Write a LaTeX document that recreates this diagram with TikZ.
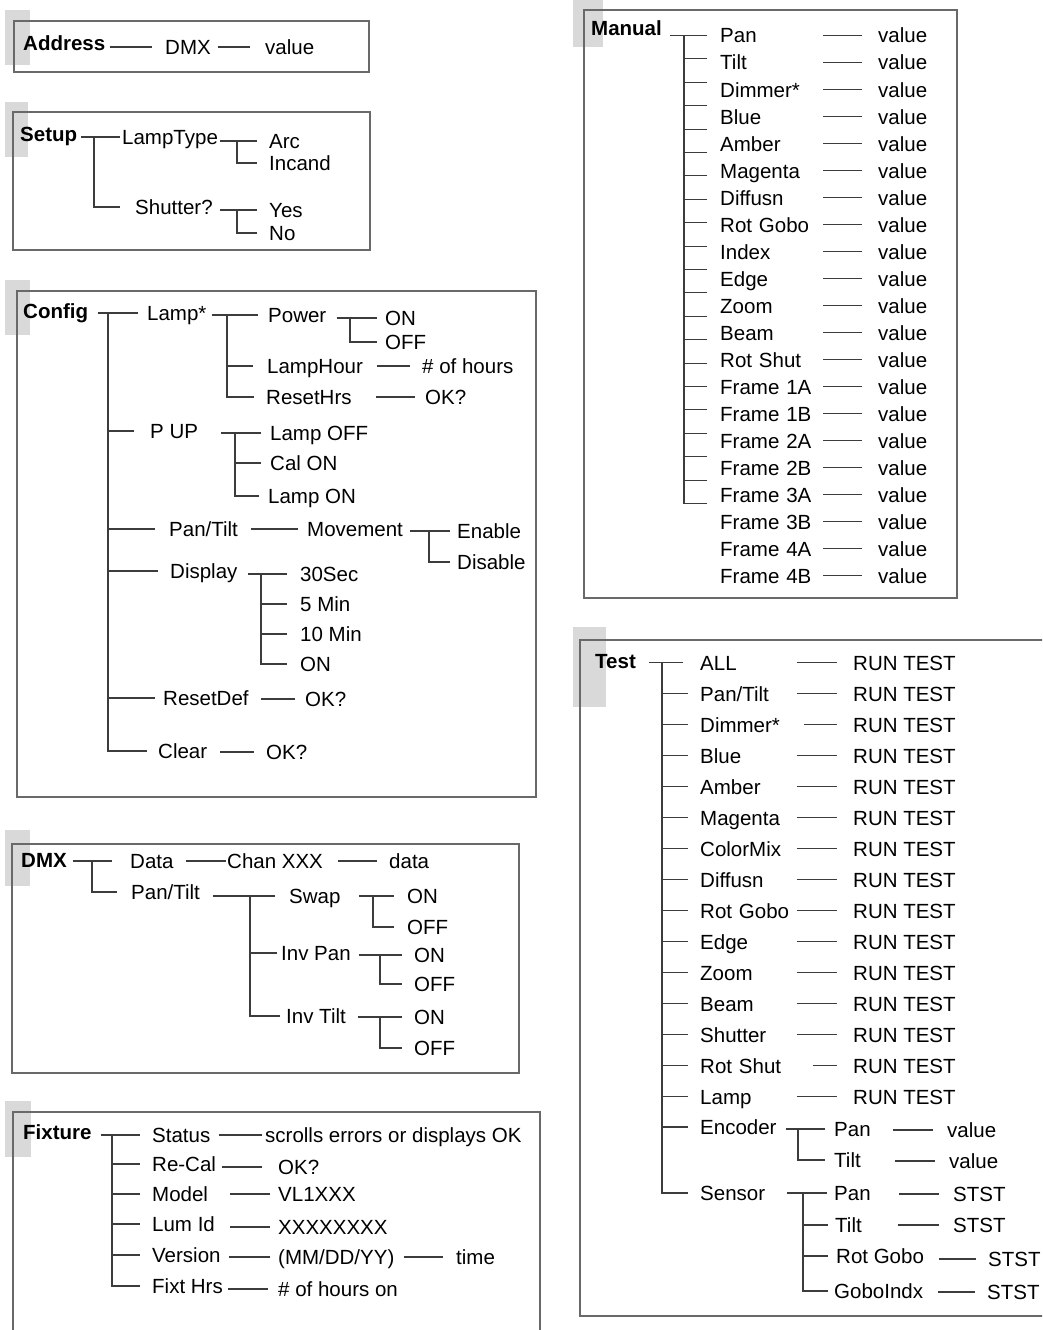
\documentclass[tikz,border=0pt]{standalone}
\usepackage{fontspec}
\setmainfont{Liberation Sans}
\usepackage{tikz}
\usetikzlibrary{positioning}
\definecolor{tabgray}{RGB}{217,217,217}
\definecolor{wiregray}{RGB}{60,60,60}
\definecolor{framegray}{RGB}{105,105,105}

\begin{document}
\begin{tikzpicture}[x=1pt, y=-1pt,
  every node/.style={font=\fontsize{20.5}{24}\selectfont},
  item/.style={anchor=west, inner sep=0pt, text height=15pt, text depth=0pt},
  row/.style={item, text width=#1, align=left},
  head/.style={item, font=\fontsize{20.5}{24}\selectfont\bfseries},
  menubox/.style={draw=framegray, line width=1.3pt},
  tab/.style={fill=tabgray},
  wire/.style={draw=wiregray, line width=1.1pt, shorten <=4pt, shorten >=10pt},
  elbow/.style={wire, shorten <=0pt}]
  \useasboundingbox (0,0) rectangle (1042,1330);
  \clip (0,0) rectangle (1042,1330);

  % Address
  \fill[tab] (5,10) rectangle (30,65);
  \draw[menubox] (14,21) rectangle (369,72);
  \node[head] (addr) at (23,43) {Address};
  \node[item] (adrdmx) at (165,47) {DMX};
  \node[item] (adrval) at (265,47) {value};
  \draw[wire, shorten <=5pt, shorten >=13pt] (addr.east |- adrdmx) -- (adrdmx);
  \draw[wire, shorten <=7pt, shorten >=15pt] (adrdmx) -- (adrval);

  % Setup
  \fill[tab] (5,102) rectangle (28,157);
  \draw[menubox] (13,112) rectangle (370,250);
  \node[head] (setup) at (20,134) {Setup};
  \node[item] (ltype) at (122,137) {LampType};
  \node[item] (arc) at (269,141) {Arc};
  \node[item] (incand) at (269,163) {Incand};
  \node[item] (shut) at (135,207) {Shutter?};
  \node[item] (yes) at (269,210) {Yes};
  \node[item] (no) at (269,233) {No};
  \coordinate (setsp) at (94,137);
  \coordinate (ltsp) at (237,141);
  \coordinate (shsp) at (237,210);
  \draw[wire, shorten >=2pt] (setup.east |- ltype) -- (ltype);
  \draw[elbow, shorten >=15pt] (setsp) |- (shut);
  \draw[wire, shorten <=2pt, shorten >=12pt] (ltype.east |- arc) -- (arc);
  \draw[elbow, shorten >=12pt] (ltsp) |- (incand);
  \draw[wire, shorten <=7pt, shorten >=12pt] (shut.east |- yes) -- (yes);
  \draw[elbow, shorten >=12pt] (shsp) |- (no);

  % Config
  \fill[tab] (5,280) rectangle (30,335);
  \draw[menubox] (17,291) rectangle (536,797);
  \node[head] (cfg) at (23,311) {Config};
  \node[item] (lamp) at (147,313) {Lamp*};
  \node[item] (power) at (268,315) {Power};
  \node[item] (pon) at (385,318) {ON};
  \node[item] (poff) at (385,342) {OFF};
  \node[item] (lhour) at (267,366) {LampHour};
  \node[item] (hours) at (422,366) {\# of hours};
  \node[item] (rhrs) at (266,397) {ResetHrs};
  \node[item] (rhok) at (425,397) {OK?};
  \node[item] (pup) at (150,431) {P UP};
  \node[item] (lmpoff) at (270,433) {Lamp OFF};
  \node[item] (calon) at (270,463) {Cal ON};
  \node[item] (lmpon) at (268,496) {Lamp ON};
  \node[item] (cpt) at (169,529) {Pan/Tilt};
  \node[item] (move) at (307,529) {Movement};
  \node[item] (enable) at (457,531) {Enable};
  \node[item] (disable) at (457,562) {Disable};
  \node[item] (disp) at (170,571) {Display};
  \node[item] (s30) at (300,574) {30Sec};
  \node[item] (m5) at (300,604) {5 Min};
  \node[item] (m10) at (300,634) {10 Min};
  \node[item] (don) at (300,664) {ON};
  \node[item] (rdef) at (163,698) {ResetDef};
  \node[item] (rdok) at (305,699) {OK?};
  \node[item] (clr) at (158,751) {Clear};
  \node[item] (clok) at (266,752) {OK?};
  \coordinate (cfgsp) at (108,313);
  \coordinate (lampsp) at (227,315);
  \coordinate (powsp) at (350,318);
  \coordinate (pupsp) at (235,433);
  \coordinate (movsp) at (429,531);
  \coordinate (dispsp) at (261,574);
  \draw[wire, shorten <=10pt, shorten >=9pt] (cfg.east |- lamp) -- (lamp);
  \draw[elbow, shorten >=16pt] (cfgsp) |- (pup);
  \draw[elbow, shorten >=14pt] (cfgsp) |- (cpt);
  \draw[elbow, shorten >=12pt] (cfgsp) |- (disp);
  \draw[elbow, shorten >=8pt] (cfgsp) |- (rdef);
  \draw[elbow, shorten >=11pt] (cfgsp) |- (clr);
  \draw[wire, shorten <=5pt, shorten >=10pt] (lamp.east |- power) -- (power);
  \draw[elbow, shorten >=14pt] (lampsp) |- (lhour);
  \draw[elbow, shorten >=12pt] (lampsp) |- (rhrs);
  \draw[wire, shorten <=10pt, shorten >=8pt] (power.east |- pon) -- (pon);
  \draw[elbow, shorten >=8pt] (powsp) |- (poff);
  \draw[wire, shorten <=14pt, shorten >=12pt] (lhour) -- (hours);
  \draw[wire, shorten <=24pt, shorten >=10pt] (rhrs) -- (rhok);
  \draw[wire, shorten <=23pt, shorten >=9pt] (pup.east |- lmpoff) -- (lmpoff);
  \draw[elbow, shorten >=9pt] (pupsp) |- (calon);
  \draw[elbow, shorten >=9pt] (pupsp) |- (lmpon);
  \draw[wire, shorten <=13pt, shorten >=9pt] (cpt) -- (move);
  \draw[wire, shorten <=7pt, shorten >=7pt] (move.east |- enable) -- (enable);
  \draw[elbow, shorten >=7pt] (movsp) |- (disable);
  \draw[wire, shorten <=10pt, shorten >=13pt] (disp.east |- s30) -- (s30);
  \draw[elbow, shorten >=13pt] (dispsp) |- (m5);
  \draw[elbow, shorten >=13pt] (dispsp) |- (m10);
  \draw[elbow, shorten >=13pt] (dispsp) |- (don);
  \draw[wire, shorten <=12pt, shorten >=10pt] (rdef.east |- rdok) -- (rdok);
  \draw[wire, shorten <=13pt, shorten >=12pt] (clr.east |- clok) -- (clok);

  % DMX
  \fill[tab] (5,830) rectangle (30,886);
  \draw[menubox] (12,844) rectangle (519,1073);
  \node[head] (dmx) at (21,860) {DMX};
  \node[item] (data) at (130,861) {Data};
  \node[item] (chan) at (227,861) {Chan XXX};
  \node[item] (dval) at (389,861) {data};
  \node[item] (dpt) at (131,892) {Pan/Tilt};
  \node[item] (swap) at (289,896) {Swap};
  \node[item] (son) at (407,896) {ON};
  \node[item] (soff) at (407,927) {OFF};
  \node[item] (ipan) at (281,953) {Inv Pan};
  \node[item] (ipon) at (414,955) {ON};
  \node[item] (ipoff) at (414,984) {OFF};
  \node[item] (itilt) at (286,1016) {Inv Tilt};
  \node[item] (iton) at (414,1017) {ON};
  \node[item] (itoff) at (414,1048) {OFF};
  \coordinate (dmxsp) at (92,861);
  \coordinate (dptsp) at (250,896);
  \coordinate (swsp) at (373,896);
  \coordinate (ipsp) at (380,955);
  \coordinate (itsp) at (380,1017);
  \draw[wire, shorten <=6pt, shorten >=18pt] (dmx.east |- data) -- (data);
  \draw[elbow, shorten >=14pt] (dmxsp) |- (dpt);
  \draw[wire, shorten <=12pt, shorten >=1pt] (data) -- (chan);
  \draw[wire, shorten <=15pt, shorten >=12pt] (chan) -- (dval);
  \draw[wire, shorten <=13pt, shorten >=14pt] (dpt.east |- swap) -- (swap);
  \draw[elbow, shorten >=4pt] (dptsp) |- (ipan);
  \draw[elbow, shorten >=6pt] (dptsp) |- (itilt);
  \draw[wire, shorten <=18pt, shorten >=13pt] (swap) -- (son);
  \draw[elbow, shorten >=13pt] (swsp) |- (soff);
  \draw[wire, shorten <=8pt, shorten >=12pt] (ipan.east |- ipon) -- (ipon);
  \draw[elbow, shorten >=12pt] (ipsp) |- (ipoff);
  \draw[wire, shorten <=12pt, shorten >=12pt] (itilt.east |- iton) -- (iton);
  \draw[elbow, shorten >=12pt] (itsp) |- (itoff);

  % Fixture
  \fill[tab] (5,1101) rectangle (31,1157);
  \draw[menubox] (13,1112) rectangle (540,1345);
  \node[head] (fix) at (23,1132) {Fixture};
  \node[item] (stat) at (152,1135) {Status};
  \node[item] (scroll) at (265,1135) {scrolls errors or displays OK};
  \node[item] (recal) at (152,1164) {Re-Cal};
  \node[item] (rcok) at (278,1167) {OK?};
  \node[item] (model) at (152,1194) {Model};
  \node[item] (vl) at (278,1194) {VL1XXX};
  \node[item] (lum) at (152,1224) {Lum Id};
  \node[item] (lumx) at (278,1227) {XXXXXXXX};
  \node[item] (ver) at (152,1255) {Version};
  \node[item] (mdy) at (278,1257) {(MM/DD/YY)};
  \node[item] (time) at (456,1257) {time};
  \node[item] (fhrs) at (152,1286) {Fixt Hrs};
  \node[item] (fhon) at (278,1289) {\# of hours on};
  \coordinate (fixsp) at (112,1135);
  \draw[wire, shorten <=9pt, shorten >=12pt] (fix.east |- stat) -- (stat);
  \draw[elbow, shorten >=12pt] (fixsp) |- (recal);
  \draw[elbow, shorten >=12pt] (fixsp) |- (model);
  \draw[elbow, shorten >=12pt] (fixsp) |- (lum);
  \draw[elbow, shorten >=12pt] (fixsp) |- (ver);
  \draw[elbow, shorten >=12pt] (fixsp) |- (fhrs);
  \draw[wire, shorten <=8pt, shorten >=3pt] (stat) -- (scroll);
  \draw[wire, shorten <=6pt, shorten >=16pt] (recal.east |- rcok) -- (rcok);
  \draw[wire, shorten <=22pt, shorten >=8pt] (model) -- (vl);
  \draw[wire, shorten <=15pt, shorten >=8pt] (lum.east |- lumx) -- (lumx);
  \draw[wire, shorten <=8pt, shorten >=8pt] (ver.east |- mdy) -- (mdy);
  \draw[wire, shorten <=9pt, shorten >=13pt] (mdy) -- (time);
  \draw[wire, shorten <=5pt, shorten >=10pt] (fhrs.east |- fhon) -- (fhon);

  % Manual
  \fill[tab] (573,0) rectangle (603,47);
  \draw[menubox] (584,10) rectangle (957,598);
  \node[head] (man) at (591,28) {Manual};
  \node[row=100pt] (m1) at (720,35.5) {Pan};        \node[item] (mv1) at (878,35.5) {value};
  \node[row=100pt] (m2) at (720,62.5) {Tilt};       \node[item] (mv2) at (878,62.5) {value};
  \node[row=100pt] (m3) at (720,89.5) {Dimmer*};    \node[item] (mv3) at (878,89.5) {value};
  \node[row=100pt] (m4) at (720,116.5) {Blue};      \node[item] (mv4) at (878,116.5) {value};
  \node[row=100pt] (m5) at (720,143.5) {Amber};     \node[item] (mv5) at (878,143.5) {value};
  \node[row=100pt] (m6) at (720,170.5) {Magenta};   \node[item] (mv6) at (878,170.5) {value};
  \node[row=100pt] (m7) at (720,197.5) {Diffusn};   \node[item] (mv7) at (878,197.5) {value};
  \node[row=100pt] (m8) at (720,224.5) {Rot Gobo};  \node[item] (mv8) at (878,224.5) {value};
  \node[row=100pt] (m9) at (720,251.5) {Index};     \node[item] (mv9) at (878,251.5) {value};
  \node[row=100pt] (m10) at (720,278.5) {Edge};     \node[item] (mv10) at (878,278.5) {value};
  \node[row=100pt] (m11) at (720,305.5) {Zoom};     \node[item] (mv11) at (878,305.5) {value};
  \node[row=100pt] (m12) at (720,332.5) {Beam};     \node[item] (mv12) at (878,332.5) {value};
  \node[row=100pt] (m13) at (720,359.5) {Rot Shut}; \node[item] (mv13) at (878,359.5) {value};
  \node[row=100pt] (m14) at (720,386.5) {Frame 1A}; \node[item] (mv14) at (878,386.5) {value};
  \node[row=100pt] (m15) at (720,413.5) {Frame 1B}; \node[item] (mv15) at (878,413.5) {value};
  \node[row=100pt] (m16) at (720,440.5) {Frame 2A}; \node[item] (mv16) at (878,440.5) {value};
  \node[row=100pt] (m17) at (720,467.5) {Frame 2B}; \node[item] (mv17) at (878,467.5) {value};
  \node[row=100pt] (m18) at (720,494.5) {Frame 3A}; \node[item] (mv18) at (878,494.5) {value};
  \node[row=100pt] (m19) at (720,521.5) {Frame 3B}; \node[item] (mv19) at (878,521.5) {value};
  \node[row=100pt] (m20) at (720,548.5) {Frame 4A}; \node[item] (mv20) at (878,548.5) {value};
  \node[row=100pt] (m21) at (720,575.5) {Frame 4B}; \node[item] (mv21) at (878,575.5) {value};
  \coordinate (mansp) at (684,35.5);
  \draw[wire, shorten <=8pt, shorten >=13pt] (man.east |- m1) -- (m1);
  \draw[elbow, shorten >=0pt] (mansp) -- ++(0,468);
  \foreach \k in {1,...,20}
    \draw[elbow, shorten >=0pt] (mansp) ++(0,23.4*\k) -- ++(23,0);
  \foreach \k in {1,...,21}
    \draw[wire, shorten <=3pt, shorten >=16pt] (m\k) -- (mv\k);

  % Test
  \fill[tab] (573,627) rectangle (606,707);
  \draw[menubox] (580,640) rectangle (1060,1316);
  \node[head] (test) at (595,661) {Test};
  \node[row=94pt] (t1) at (700,662.7) {ALL};        \node[item] (tv1) at (853,662.7) {RUN TEST};
  \node[row=94pt] (t2) at (700,693.7) {Pan/Tilt};   \node[item] (tv2) at (853,693.7) {RUN TEST};
  \node[row=94pt] (t3) at (700,724.7) {Dimmer*};    \node[item] (tv3) at (853,724.7) {RUN TEST};
  \node[row=94pt] (t4) at (700,755.7) {Blue};       \node[item] (tv4) at (853,755.7) {RUN TEST};
  \node[row=94pt] (t5) at (700,786.7) {Amber};      \node[item] (tv5) at (853,786.7) {RUN TEST};
  \node[row=94pt] (t6) at (700,817.7) {Magenta};    \node[item] (tv6) at (853,817.7) {RUN TEST};
  \node[row=94pt] (t7) at (700,848.7) {ColorMix};   \node[item] (tv7) at (853,848.7) {RUN TEST};
  \node[row=94pt] (t8) at (700,879.7) {Diffusn};    \node[item] (tv8) at (853,879.7) {RUN TEST};
  \node[row=94pt] (t9) at (700,910.7) {Rot Gobo};   \node[item] (tv9) at (853,910.7) {RUN TEST};
  \node[row=94pt] (t10) at (700,941.7) {Edge};      \node[item] (tv10) at (853,941.7) {RUN TEST};
  \node[row=94pt] (t11) at (700,972.7) {Zoom};      \node[item] (tv11) at (853,972.7) {RUN TEST};
  \node[row=94pt] (t12) at (700,1003.7) {Beam};     \node[item] (tv12) at (853,1003.7) {RUN TEST};
  \node[row=94pt] (t13) at (700,1034.7) {Shutter};  \node[item] (tv13) at (853,1034.7) {RUN TEST};
  \node[row=94pt] (t14) at (700,1065.7) {Rot Shut}; \node[item] (tv14) at (853,1065.7) {RUN TEST};
  \node[row=94pt] (t15) at (700,1096.7) {Lamp};     \node[item] (tv15) at (853,1096.7) {RUN TEST};
  \node[item] (enc) at (700,1127) {Encoder};
  \node[item] (epan) at (834,1129) {Pan};   \node[item] (epv) at (947,1130) {value};
  \node[item] (etilt) at (834,1160) {Tilt}; \node[item] (etv) at (949,1161) {value};
  \node[item] (sens) at (700,1193) {Sensor};
  \node[item] (span) at (834,1193) {Pan};       \node[item] (spv) at (953,1194) {STST};
  \node[item] (stilt) at (835,1225) {Tilt};     \node[item] (stv) at (953,1225) {STST};
  \node[item] (srot) at (836,1256) {Rot Gobo};  \node[item] (srv) at (988,1259) {STST};
  \node[item] (sgobo) at (834,1291) {GoboIndx}; \node[item] (sgv) at (987,1292) {STST};
  \coordinate (testsp) at (662,662.7);
  \coordinate (encsp) at (798,1129);
  \coordinate (senssp) at (803,1193);
  \draw[wire, shorten <=13pt, shorten >=17pt] (test.east |- t1) -- (t1);
  \foreach \k in {2,...,15}
    \draw[elbow, shorten >=12pt] (testsp) |- (t\k);
  \draw[elbow, shorten >=12pt] (testsp) |- (enc);
  \draw[elbow, shorten >=12pt] (testsp) |- (sens);
  \foreach \k in {1,2,4,5,6,7,8,9,10,11,12,13,15}
    \draw[wire, shorten <=3pt, shorten >=16pt] (t\k) -- (tv\k);
  \draw[wire, shorten <=10pt, shorten >=16pt] (t3) -- (tv3);
  \draw[wire, shorten <=19pt, shorten >=16pt] (t14) -- (tv14);
  \draw[wire, shorten <=9pt, shorten >=9pt] (enc.east |- epan) -- (epan);
  \draw[elbow, shorten >=9pt] (encsp) |- (etilt);
  \draw[wire, shorten <=22pt, shorten >=14pt] (epan.east |- epv) -- (epv);
  \draw[wire, shorten <=34pt, shorten >=14pt] (etilt.east |- etv) -- (etv);
  \draw[wire, shorten <=22pt, shorten >=7pt] (sens) -- (span);
  \draw[elbow, shorten >=7pt] (senssp) |- (stilt);
  \draw[elbow, shorten >=8pt] (senssp) |- (srot);
  \draw[elbow, shorten >=6pt] (senssp) |- (sgobo);
  \draw[wire, shorten <=28pt, shorten >=14pt] (span.east |- spv) -- (spv);
  \draw[wire, shorten <=36pt, shorten >=14pt] (stilt) -- (stv);
  \draw[wire, shorten <=15pt, shorten >=12pt] (srot.east |- srv) -- (srv);
  \draw[wire, shorten <=15pt, shorten >=12pt] (sgobo.east |- sgv) -- (sgv);
\end{tikzpicture}
\end{document}
